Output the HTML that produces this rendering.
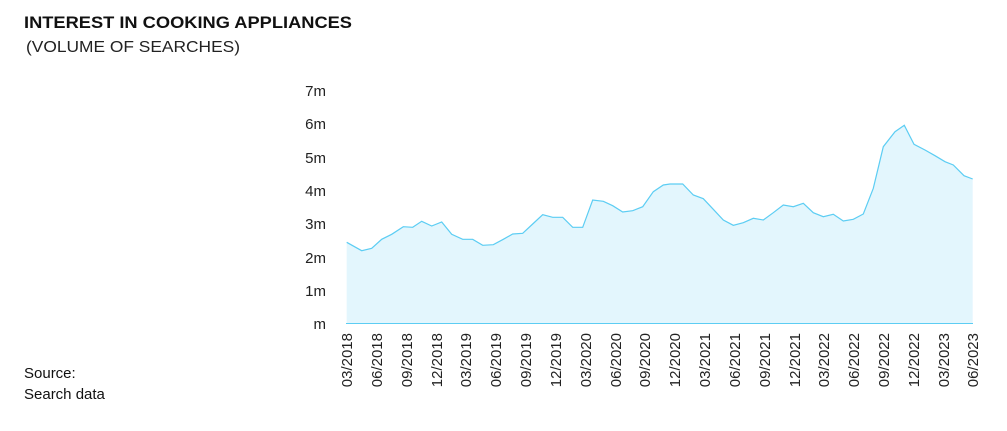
<!DOCTYPE html>
<html><head><meta charset="utf-8"><style>
body{margin:0;background:#fff;width:1007px;height:426px;overflow:hidden;font-family:"Liberation Sans",sans-serif;color:#111}
</style></head><body>
<svg width="1007" height="426" xmlns="http://www.w3.org/2000/svg" font-family="Liberation Sans, sans-serif">
<text x="24" y="28" font-size="17" font-weight="bold" fill="#111" textLength="328" lengthAdjust="spacingAndGlyphs">INTEREST IN COOKING APPLIANCES</text>
<text x="26" y="52" font-size="16" fill="#222" textLength="214" lengthAdjust="spacingAndGlyphs">(VOLUME OF SEARCHES)</text>
<text x="24" y="378" font-size="15" fill="#111">Source:</text>
<text x="24" y="399" font-size="15" fill="#111">Search data</text>
<g font-size="15" fill="#222" text-anchor="end">
<text x="326" y="96">7m</text><text x="326" y="129">6m</text><text x="326" y="163">5m</text><text x="326" y="196">4m</text>
<text x="326" y="229">3m</text><text x="326" y="263">2m</text><text x="326" y="296">1m</text><text x="326" y="329">m</text>
</g>
<polygon fill="#e3f6fd" points="346.7,323 346.7,242.3 361.7,250.7 371.7,248.3 381.7,239.3 391.7,234.3 403.3,226.7 412.7,227.3 421.7,221.3 431.7,226 441.7,222 451.7,234.3 462.7,239.3 472.7,239.3 482.7,245.3 493.3,244.7 503.3,239.3 512.7,234 522.7,233.3 532.7,224 542.7,214.7 552.7,217.3 562.7,217.3 572.7,227.3 582.7,227.3 592.7,200 603.3,201.3 612.7,205.7 622.7,212 632.7,210.7 642.7,206.7 653.3,191.7 663.3,185 670,184 682.7,184 693.3,195 703.3,198.7 713.3,209.3 723.3,220 733.3,225.3 743.3,222.7 753.3,218.3 763.3,220 773.3,212.7 783.3,205 793.3,206.7 803.3,203.3 813.3,212.7 823.3,216.7 833.3,214.3 843.3,221 853.3,219.3 863.3,214 873.3,188.3 883.3,146.7 895,131.7 904.3,125.3 914,144.3 925,150 935,155.7 945,161.7 953.3,165 964,175.7 972.7,179 972.7,323"/>
<polyline fill="none" stroke="#5ccdf3" stroke-width="1.2" points="346.7,242.3 361.7,250.7 371.7,248.3 381.7,239.3 391.7,234.3 403.3,226.7 412.7,227.3 421.7,221.3 431.7,226 441.7,222 451.7,234.3 462.7,239.3 472.7,239.3 482.7,245.3 493.3,244.7 503.3,239.3 512.7,234 522.7,233.3 532.7,224 542.7,214.7 552.7,217.3 562.7,217.3 572.7,227.3 582.7,227.3 592.7,200 603.3,201.3 612.7,205.7 622.7,212 632.7,210.7 642.7,206.7 653.3,191.7 663.3,185 670,184 682.7,184 693.3,195 703.3,198.7 713.3,209.3 723.3,220 733.3,225.3 743.3,222.7 753.3,218.3 763.3,220 773.3,212.7 783.3,205 793.3,206.7 803.3,203.3 813.3,212.7 823.3,216.7 833.3,214.3 843.3,221 853.3,219.3 863.3,214 873.3,188.3 883.3,146.7 895,131.7 904.3,125.3 914,144.3 925,150 935,155.7 945,161.7 953.3,165 964,175.7 972.7,179"/>
<line x1="346" y1="323.5" x2="973" y2="323.5" stroke="#5ccdf3" stroke-width="1"/>
<g font-size="15" fill="#222" text-anchor="end">
<text transform="translate(352,333) rotate(-90)">03/2018</text>
<text transform="translate(382,333) rotate(-90)">06/2018</text>
<text transform="translate(412,333) rotate(-90)">09/2018</text>
<text transform="translate(442,333) rotate(-90)">12/2018</text>
<text transform="translate(471,333) rotate(-90)">03/2019</text>
<text transform="translate(501,333) rotate(-90)">06/2019</text>
<text transform="translate(531,333) rotate(-90)">09/2019</text>
<text transform="translate(561,333) rotate(-90)">12/2019</text>
<text transform="translate(591,333) rotate(-90)">03/2020</text>
<text transform="translate(621,333) rotate(-90)">06/2020</text>
<text transform="translate(650,333) rotate(-90)">09/2020</text>
<text transform="translate(680,333) rotate(-90)">12/2020</text>
<text transform="translate(710,333) rotate(-90)">03/2021</text>
<text transform="translate(740,333) rotate(-90)">06/2021</text>
<text transform="translate(770,333) rotate(-90)">09/2021</text>
<text transform="translate(800,333) rotate(-90)">12/2021</text>
<text transform="translate(829,333) rotate(-90)">03/2022</text>
<text transform="translate(859,333) rotate(-90)">06/2022</text>
<text transform="translate(889,333) rotate(-90)">09/2022</text>
<text transform="translate(919,333) rotate(-90)">12/2022</text>
<text transform="translate(949,333) rotate(-90)">03/2023</text>
<text transform="translate(978,333) rotate(-90)">06/2023</text>
</g>
</svg>
</body></html>
